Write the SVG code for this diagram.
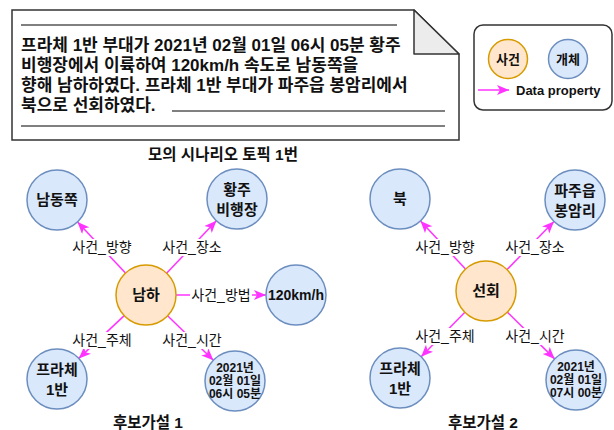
<svg xmlns="http://www.w3.org/2000/svg" width="614" height="430" viewBox="0 0 614 430">
<defs>
<style>
text{font-family:"Liberation Sans","Noto Sans CJK KR",sans-serif;fill:#111;}
.note{font-size:17px;font-weight:bold;}
.cap{font-size:15.5px;font-weight:bold;text-anchor:middle;}
.nl{font-size:15px;font-weight:bold;text-anchor:middle;}
.dl{font-size:12px;font-weight:bold;text-anchor:middle;}
.el{font-size:14px;text-anchor:middle;}
.ev{fill:#FFE6CC;stroke:#D79B00;stroke-width:1.5;}
.en{fill:#DAE8FC;stroke:#6C8EBF;stroke-width:1.5;}
.edge{stroke:#FF33FF;stroke-width:1.5;fill:none;marker-end:url(#arr);}
.lbg{fill:#fff;}
</style>
<marker id="arr" markerUnits="userSpaceOnUse" markerWidth="13" markerHeight="11" refX="12" refY="5" orient="auto" viewBox="0 0 13 11">
<path d="M0,0 L12,5 L0,10 L3,5 Z" fill="#FF33FF"/>
</marker>
</defs>

<g id="scenario-note">
<path d="M12,10 L414,10 L459,54 L459,140 L12,140 Z" fill="#fff" stroke="#333" stroke-width="1.5"/>
<path d="M414,10 L414,54 L459,54 Z" fill="#ececec" stroke="#333" stroke-width="1.5" stroke-linejoin="round"/>
<line x1="21" y1="25" x2="397" y2="25" stroke="#000" stroke-width="1"/>
<text class="note" x="21" y="51">프라체 1반 부대가 2021년 02월 01일 06시 05분 황주</text>
<text class="note" x="21" y="71">비행장에서 이륙하여 120km/h 속도로 남동쪽을</text>
<text class="note" x="21" y="91">향해 남하하였다. 프라체 1반 부대가 파주읍 봉암리에서</text>
<text class="note" x="21" y="111">북으로 선회하였다.</text>
<line x1="172" y1="111" x2="445" y2="111" stroke="#000" stroke-width="1"/>
<line x1="21" y1="126" x2="445" y2="126" stroke="#000" stroke-width="1"/>
</g>
<text class="cap" x="223" y="160">모의 시나리오 토픽 1번</text>

<g id="legend">
<rect x="474" y="25" width="138" height="85" rx="9" fill="#fff" stroke="#333" stroke-width="1.5"/>
<circle class="ev" cx="508" cy="59" r="19.5"/>
<text class="nl" x="508" y="64" style="font-size:13px">사건</text>
<circle class="en" cx="568" cy="59" r="19.5"/>
<text class="nl" x="568" y="64" style="font-size:13px">개체</text>
<line class="edge" x1="478" y1="90" x2="509" y2="90"/>
<text x="516" y="95" style="font-size:13px;font-weight:bold">Data property</text>
</g>

<g id="connectors">
<line class="edge" x1="125.5" y1="273.1" x2="77.5" y2="221.9"/>
<line class="edge" x1="166.6" y1="273.2" x2="216.4" y2="220.8"/>
<line class="edge" x1="176" y1="295" x2="266" y2="295"/>
<line class="edge" x1="124.2" y1="315.6" x2="78.8" y2="358.4"/>
<line class="edge" x1="167.6" y1="315.8" x2="213.4" y2="360.2"/>
<line class="edge" x1="465.5" y1="269.1" x2="420.5" y2="220.9"/>
<line class="edge" x1="507" y1="269.6" x2="554" y2="221.4"/>
<line class="edge" x1="464.9" y1="312.3" x2="421.1" y2="356.7"/>
<line class="edge" x1="507.3" y1="312.1" x2="554.7" y2="358.9"/>
<rect class="lbg" x="71" y="239" width="62" height="17"/>
<text class="el" x="102" y="252">사건_방향</text>
<rect class="lbg" x="161" y="239" width="62" height="17"/>
<text class="el" x="192" y="252">사건_장소</text>
<rect class="lbg" x="190" y="287" width="62" height="17"/>
<text class="el" x="221" y="300">사건_방법</text>
<rect class="lbg" x="71" y="332" width="62" height="17"/>
<text class="el" x="102" y="345">사건_주체</text>
<rect class="lbg" x="161" y="332" width="62" height="17"/>
<text class="el" x="192" y="345">사건_시간</text>
<rect class="lbg" x="414" y="239" width="62" height="17"/>
<text class="el" x="445" y="252">사건_방향</text>
<rect class="lbg" x="504" y="239" width="62" height="17"/>
<text class="el" x="535" y="252">사건_장소</text>
<rect class="lbg" x="414" y="328" width="62" height="17"/>
<text class="el" x="445" y="341">사건_주체</text>
<rect class="lbg" x="504" y="328" width="62" height="17"/>
<text class="el" x="535" y="341">사건_시간</text>
</g>

<g id="n1-namha"><circle class="ev" cx="146" cy="295" r="30"/><text class="nl" x="146" y="300">남하</text></g>
<g id="n1-southeast"><circle class="en" cx="57" cy="200" r="30"/><text class="nl" x="57" y="205">남동쪽</text></g>
<g id="n1-hwangju"><circle class="en" cx="237" cy="199" r="30"/><text class="nl" x="237" y="195">황주</text><text class="nl" x="237" y="215">비행장</text></g>
<g id="n1-speed"><circle class="en" cx="296" cy="295" r="30"/><text class="nl" x="296" y="300" style="font-size:14px">120km/h</text></g>
<g id="n1-unit"><circle class="en" cx="57" cy="379" r="30"/><text class="nl" x="57" y="375">프라체</text><text class="nl" x="57" y="395">1반</text></g>
<g id="n1-time"><circle class="en" cx="235" cy="381" r="30"/><text class="dl" x="235" y="372">2021년</text><text class="dl" x="235" y="385">02월 01일</text><text class="dl" x="235" y="398">06시 05분</text></g>
<text class="cap" x="148" y="428">후보가설 1</text>

<g id="n2-seonhoe"><circle class="ev" cx="486" cy="291" r="30"/><text class="nl" x="486" y="296">선회</text></g>
<g id="n2-north"><circle class="en" cx="400" cy="199" r="30"/><text class="nl" x="400" y="204">북</text></g>
<g id="n2-paju"><circle class="en" cx="575" cy="200" r="30"/><text class="nl" x="575" y="196">파주읍</text><text class="nl" x="575" y="216">봉암리</text></g>
<g id="n2-unit"><circle class="en" cx="400" cy="378" r="30"/><text class="nl" x="400" y="374">프라체</text><text class="nl" x="400" y="394">1반</text></g>
<g id="n2-time"><circle class="en" cx="576" cy="380" r="30"/><text class="dl" x="576" y="371">2021년</text><text class="dl" x="576" y="384">02월 01일</text><text class="dl" x="576" y="397">07시 00분</text></g>
<text class="cap" x="483" y="428">후보가설 2</text>
</svg>
